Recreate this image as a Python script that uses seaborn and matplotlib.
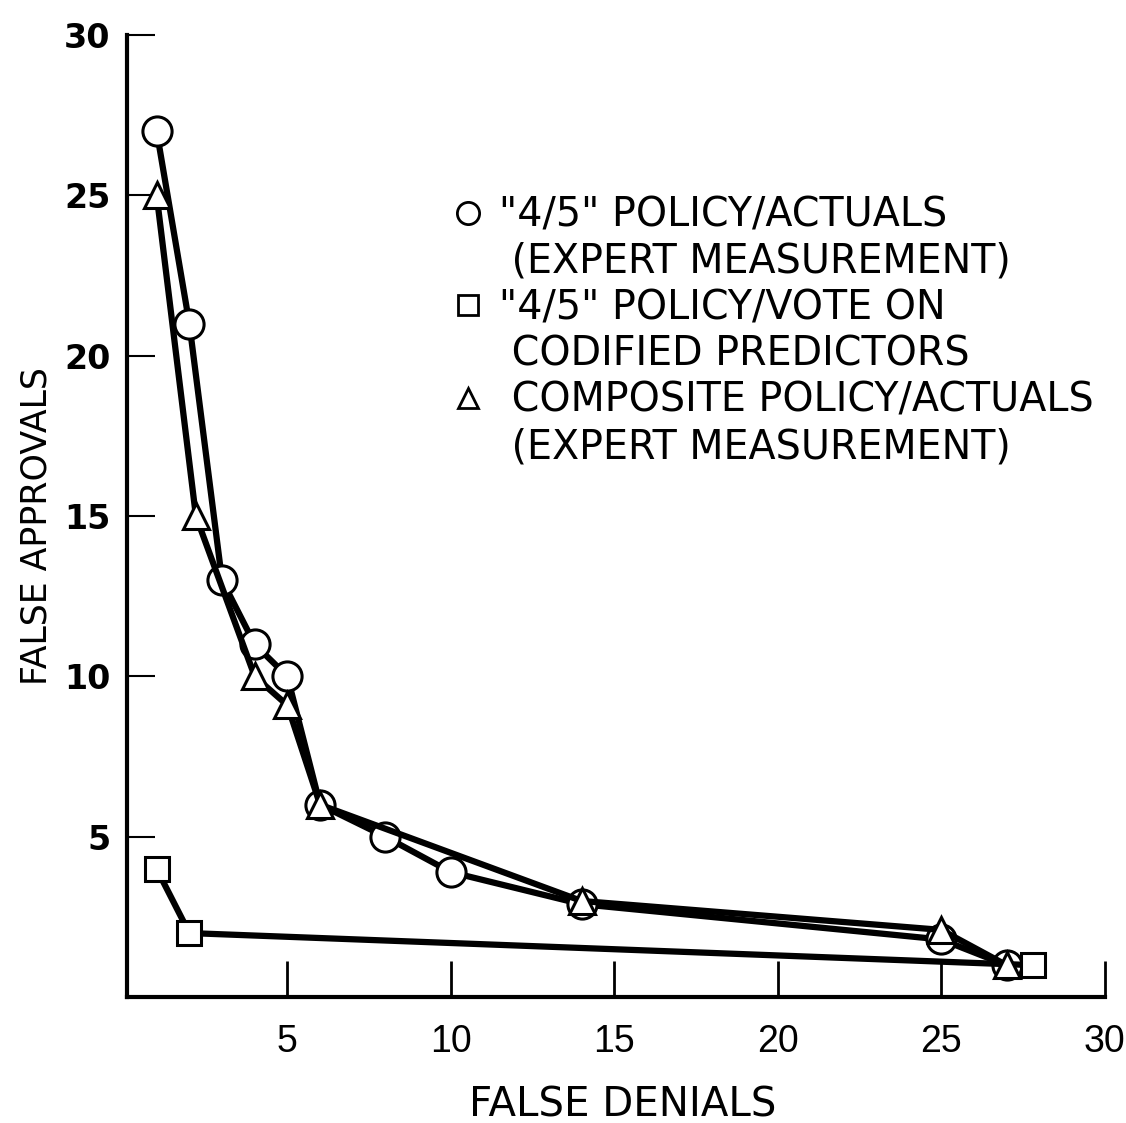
import numpy as np
import pandas as pd
import matplotlib
matplotlib.use("Agg")
import matplotlib.pyplot as plt
from matplotlib.lines import Line2D
import seaborn as sns

# values
circ_x = [1, 2, 3, 4, 5, 6, 8, 10, 14, 25, 27]
circ_y = [27, 21, 13, 11, 10, 6, 5, 3.9, 2.9, 1.8, 1]
tri_x = [1, 2.2, 4, 5, 6, 14, 25, 27]
tri_y = [25, 15, 10, 9.1, 6, 3, 2.1, 1]
sq_x = [1, 2, 27.8]
sq_y = [4, 2, 1]

labels = [('"4/5" POLICY/ACTUALS', '(EXPERT MEASUREMENT)'),
          ('"4/5" POLICY/VOTE ON', 'CODIFIED PREDICTORS'),
          ('COMPOSITE POLICY/ACTUALS', '(EXPERT MEASUREMENT)')]
ticks = [5, 10, 15, 20, 25, 30]

sns.set_style("white")
plt.rcParams['font.family'] = ['DejaVu Sans']
plt.rcParams['text.color'] = 'black'
plt.rcParams['axes.labelcolor'] = 'black'
plt.rcParams['xtick.color'] = 'black'
plt.rcParams['ytick.color'] = 'black'

fig = plt.figure(figsize=(11.26, 11.23), dpi=100)
ax = fig.add_axes([0.113, 0.112, 0.868, 0.857])

line_kw = dict(color="black", lw=4.5, markerfacecolor="white",
               markeredgecolor="black", markeredgewidth=2.2, estimator=None, sort=False)
sns.lineplot(x=circ_x, y=circ_y, marker="o", markersize=21, ax=ax, zorder=3, **line_kw)
sns.lineplot(x=tri_x, y=tri_y, marker="^", markersize=19, ax=ax, zorder=4, **line_kw)
sns.lineplot(x=sq_x, y=sq_y, marker="s", markersize=17, ax=ax, zorder=3, **line_kw)

ax.set_xlim(0.1, 30)
ax.set_ylim(0, 30)
ax.set_xticks(ticks)
ax.set_yticks(ticks)
ax.set_xticklabels([str(t) for t in ticks], fontsize=27, family="Liberation Sans")
ax.set_yticklabels([str(t) for t in ticks], fontsize=24, fontweight="bold")
ax.tick_params(axis="x", direction="in", length=26, width=2, pad=19)
ax.tick_params(axis="y", direction="in", length=20, width=1.5, pad=12)
ax.tick_params(bottom=True, left=True)

for s in ["top", "right"]:
    ax.spines[s].set_visible(False)
for s in ["left", "bottom"]:
    ax.spines[s].set_linewidth(3)
    ax.spines[s].set_color("black")

ax.set_xlabel("FALSE DENIALS", fontsize=29)
ax.xaxis.set_label_coords(0.507, -0.112)
ax.xaxis.label.set_va("center")
ax.set_ylabel("FALSE APPROVALS", fontsize=25)
ax.yaxis.set_label_coords(-0.093, 0.49)
ax.yaxis.label.set_va("center")

markers = [("o", 16), ("s", 14), ("^", 15)]
handles, texts = [], []
for (m, ms), (first, second) in zip(markers, labels):
    handles.append(Line2D([], [], ls="none", marker=m, markersize=ms, markerfacecolor="white",
                          markeredgecolor="black", markeredgewidth=2))
    texts.append(first if first.startswith('"') else " " + first)
    handles.append(Line2D([], [], ls="none"))
    texts.append(" " + second)

leg = ax.legend(handles, texts, loc="upper left", bbox_to_anchor=(0.399, 0.826),
                bbox_transform=fig.transFigure, frameon=False, fontsize=28.5,
                handlelength=0.95, handletextpad=0.3, labelspacing=0.16,
                borderpad=0, borderaxespad=0)

fig.savefig("out.png", dpi=100)
